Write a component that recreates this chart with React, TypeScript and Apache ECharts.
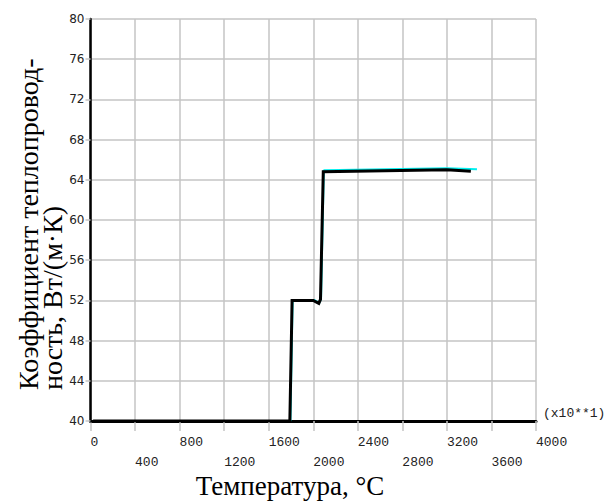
import React, { useEffect, useRef } from 'react';
import * as echarts from 'echarts';

// Temperature (x-axis units as printed) and conductivity values
const blackT = [0, 30, 1790, 1810, 2000, 2050, 2065, 2090, 3200, 3415];
const blackK = [39.8, 40, 40, 52, 52, 51.7, 52.1, 64.8, 65.0, 64.85];
const cyanT = [0, 30, 1795, 1815, 2005, 2055, 2070, 2095, 3200, 3470];
const cyanK = [39.8, 40, 40, 52.05, 52.05, 51.75, 52.15, 64.95, 65.15, 65.05];

const xMin = 0, xMax = 4000, xStep = 400;
const yMin = 40, yMax = 80, yStep = 4;

const yTitle1 = 'Коэффициент теплопровод-';
const yTitle2 = 'ность, Вт/(м·К)';
const xTitle = 'Температура, °С';
const xScaleNote = '(x10**1)';

export default function App() {
  const ref = useRef<HTMLDivElement>(null);
  useEffect(() => {
    if (!ref.current) return;
    const chart = echarts.init(ref.current, null, { renderer: 'svg' });
    const grid = '#c4c4c4';
    chart.setOption({
      animation: false,
      backgroundColor: '#fff',
      grid: { left: 90.5, right: 71, top: 19, bottom: 80, containLabel: false },
      xAxis: {
        type: 'value', min: xMin, max: xMax, interval: xStep,
        axisLine: { show: true, onZero: false, lineStyle: { color: '#000', width: 3 } },
        axisTick: { show: true, length: 10, lineStyle: { color: grid, width: 1.5 } },
        splitLine: { show: true, lineStyle: { color: grid, width: 1.5 } },
        axisLabel: {
          interval: 0, hideOverlap: false,
          formatter: (v: number) => (Math.round(v / xStep) % 2 === 1 ? '\n' + v : String(v)),
          align: 'left', verticalAlign: 'top', margin: 11, lineHeight: 20,
          fontFamily: '"Liberation Mono", monospace', fontSize: 13, color: '#222',
        },
      },
      yAxis: {
        type: 'value', min: yMin, max: yMax, interval: yStep,
        axisLine: { show: true, onZero: false, lineStyle: { color: '#000', width: 2.5 } },
        axisTick: { show: true, length: 5, lineStyle: { color: grid, width: 1.5 } },
        splitLine: { show: true, lineStyle: { color: grid, width: 1.5 } },
        axisLabel: {
          margin: 6, padding: [0, 0, 7, 0],
          fontFamily: '"DejaVu Sans", sans-serif', fontSize: 12, color: '#222',
        },
      },
      series: [
        {
          type: 'line', showSymbol: false, symbol: 'none', z: 3,
          data: cyanT.map((t, i) => [t, cyanK[i]]),
          lineStyle: { color: '#00f0f0', width: 2 },
        },
        {
          type: 'line', showSymbol: false, symbol: 'none', z: 4,
          data: blackT.map((t, i) => [t, blackK[i]]),
          lineStyle: { color: '#000', width: 3, join: 'miter' },
        },
      ],
      graphic: [
        {
          type: 'text', x: 28, y: 390, rotation: Math.PI / 2,
          style: { text: yTitle1, font: '28px "Liberation Serif", serif', align: 'left', verticalAlign: 'middle', fill: '#000' },
        },
        {
          type: 'text', x: 52, y: 390, rotation: Math.PI / 2,
          style: { text: yTitle2, font: '28px "Liberation Serif", serif', align: 'left', verticalAlign: 'middle', fill: '#000' },
        },
        {
          type: 'text', x: 290, y: 486,
          style: { text: xTitle, font: '27px "Liberation Serif", serif', align: 'center', verticalAlign: 'middle', fill: '#000' },
        },
        {
          type: 'text', x: 543, y: 413,
          style: { text: xScaleNote, font: '13px "Liberation Mono", monospace', align: 'left', verticalAlign: 'middle', fill: '#222' },
        },
      ],
    });
    return () => chart.dispose();
  }, []);
  return <div ref={ref} style={{ position: 'fixed', left: 0, top: 0, width: 607, height: 501 }} />;
}
